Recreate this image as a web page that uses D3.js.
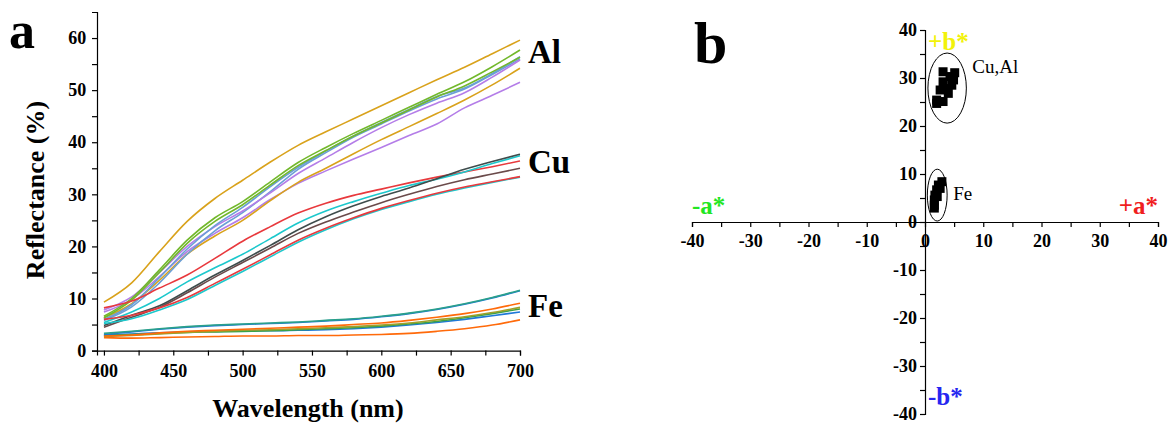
<!DOCTYPE html>
<html>
<head>
<meta charset="utf-8">
<script src="https://cdn.jsdelivr.net/npm/d3@7"></script>
<style>
  body { margin: 0; background: #fff; }
  svg text { font-family: "Liberation Serif", "Times New Roman", serif; }
  .tick text { font-weight: bold; font-size: 18px; }
  .domain, .tick line { stroke: #000; stroke-width: 1.2; }
</style>
</head>
<body>
<div id="chart"></div>
<script>
// ---- panel a: reflectance spectra ----
const wavelengths = [400, 420, 440, 460, 480, 500, 520, 540, 560, 580, 600, 620, 640, 660, 680, 700];

const alGold1   = [9.3, 13, 19, 24.8, 29.2, 32.7, 36.2, 39.4, 42, 44.5, 47, 49.5, 52, 54.4, 57, 59.6];
const alGreen1  = [6.6, 10, 15.5, 21.2, 25.5, 28.6, 32.4, 36.1, 39, 41.7, 44.2, 46.7, 49.2, 51.6, 54.5, 57.7];
const alGreen2  = [6.3, 9.7, 15, 20.6, 24.8, 28, 31.8, 35.5, 38.4, 41.2, 43.7, 46.2, 48.7, 50.8, 53.5, 56.3];
const alBlue1   = [5.8, 8.4, 13, 18.5, 23, 26.5, 30.5, 34.8, 38, 41, 43.5, 46, 48.3, 50.2, 53, 56];
const alBlue2   = [6.0, 8.8, 14, 19.5, 24, 27.5, 31.5, 35.2, 38.3, 41.2, 43.8, 46.3, 48.8, 50.4, 53.2, 56.4];
const alPurple1 = [7.8, 10.3, 15, 20, 23.8, 26.8, 30.3, 34, 37, 40, 42.8, 45.3, 47.5, 49.5, 52.5, 55.8];
const alGold2   = [6.3, 9, 13.5, 18.5, 22, 25, 28.8, 32.3, 35, 37.8, 40.5, 43, 45.5, 48.1, 51, 54.2];
const alPurple2 = [7.4, 9.8, 14.2, 19, 22.5, 25.5, 29, 32.1, 34.5, 36.8, 39, 41.3, 43.5, 46.6, 49, 51.5];

const cuRed1  = [8.2, 9.5, 12, 14.5, 17.7, 21, 23.8, 26.4, 28.3, 29.8, 31, 32.2, 33.3, 34.3, 35.3, 36.4];
const cuCyan1 = [5.4, 7.4, 10, 13.2, 15.9, 18.5, 21.5, 24.5, 26.8, 28.6, 30.2, 31.7, 32.9, 34.3, 35.9, 37.4];
const cuDark  = [4.8, 6.8, 8.6, 11.5, 14.5, 17.3, 20.2, 23.2, 25.7, 27.8, 29.6, 31.2, 33, 34.8, 36.3, 37.7];
const cuBrown = [4.5, 6.4, 8.3, 11.1, 14.1, 16.9, 19.7, 22.5, 24.7, 26.6, 28.4, 30, 31.5, 32.8, 33.9, 35];
const cuRed2  = [6.0, 6.8, 8.2, 10.2, 12.9, 15.6, 18.4, 21.2, 23.5, 25.5, 27.3, 28.8, 30.2, 31.4, 32.4, 33.4];
const cuCyan2 = [5.2, 6.1, 7.8, 9.8, 12.5, 15.2, 18, 20.8, 23.2, 25.3, 27.1, 28.6, 30, 31.2, 32.3, 33.3];

const feTeal    = [3.3, 3.7, 4.2, 4.6, 4.9, 5.1, 5.3, 5.5, 5.8, 6.1, 6.6, 7.2, 8.0, 9.0, 10.2, 11.6];
const feBlue1   = [3.1, 3.6, 4.1, 4.5, 4.8, 5.0, 5.2, 5.4, 5.7, 6.0, 6.5, 7.1, 7.9, 8.9, 10.1, 11.5];
const feOrange1 = [2.8, 3.0, 3.4, 3.7, 3.9, 4.1, 4.3, 4.5, 4.7, 5.0, 5.3, 5.8, 6.4, 7.1, 8.0, 9.1];
const feOlive   = [2.7, 2.9, 3.2, 3.5, 3.7, 3.9, 4.0, 4.2, 4.4, 4.6, 4.9, 5.3, 5.9, 6.5, 7.3, 8.3];
const feGreen   = [2.9, 3.1, 3.3, 3.5, 3.6, 3.7, 3.8, 4.0, 4.2, 4.4, 4.7, 5.1, 5.6, 6.3, 7.1, 8.0];
const feBlue2   = [3.0, 3.2, 3.4, 3.6, 3.7, 3.8, 3.8, 3.9, 4.0, 4.2, 4.5, 4.9, 5.4, 6.0, 6.7, 7.4];
const feOrange2 = [2.5, 2.4, 2.5, 2.6, 2.7, 2.8, 2.8, 2.9, 2.9, 3.0, 3.1, 3.3, 3.7, 4.2, 4.9, 5.9];

const spectra = [
  { values: alGold1, color: "#d9a21b" }, { values: alPurple2, color: "#b47de8" },
  { values: alGold2, color: "#d9a21b" }, { values: alBlue1, color: "#6b9fd6" },
  { values: alPurple1, color: "#b47de8" }, { values: alBlue2, color: "#6b9fd6" },
  { values: alGreen2, color: "#72b82b" }, { values: alGreen1, color: "#72b82b" },
  { values: cuRed1, color: "#e8393d" }, { values: cuCyan1, color: "#1cc8cc" },
  { values: cuBrown, color: "#6a4a4a" }, { values: cuDark, color: "#3f4c4c" },
  { values: cuCyan2, color: "#1cc8cc" }, { values: cuRed2, color: "#e8393d" },
  { values: feOrange2, color: "#ff6a0a" }, { values: feBlue2, color: "#1f78d8" },
  { values: feGreen, color: "#3aa24a" }, { values: feOlive, color: "#a0a02a" },
  { values: feOrange1, color: "#ff6a0a" }, { values: feBlue1, color: "#1f78d8" },
  { values: feTeal, color: "#2ba08a" }
];
const groupLabels = [{ text: "Al", value: 57.5 }, { text: "Cu", value: 36.3 }, { text: "Fe", value: 8.7 }];

// ---- panel b: CIELab a*-b* plane ----
const cuAlA = [3.1, 5.1, 4.3, 3.1, 4.6, 2.6, 4.0, 2.0, 3.1, 3.7, 4.9, 2.0];
const cuAlB = [31.3, 31.1, 30.3, 29.2, 28.5, 27.5, 26.8, 25.4, 25.1, 27.8, 29.6, 24.7];
const feA = [2.9, 2.3, 2.0, 1.7, 1.6, 1.6, 1.6, 2.6, 2.1];
const feB = [8.4, 7.7, 6.7, 5.6, 4.6, 3.5, 2.9, 7.0, 5.3];
const clusters = [
  { name: "Cu,Al", a: 3.8, b: 27.9, ra: 3.3, rb: 7.3 },
  { name: "Fe", a: 2.1, b: 5.6, ra: 1.7, rb: 5.4 }
];
const axisNames = [
  { text: "+b*", color: "#f2f20a" }, { text: "-b*", color: "#2626f0" },
  { text: "-a*", color: "#22e622" }, { text: "+a*", color: "#f01e1e" }
];

const width = 1169, height = 423;
const svg = d3.select("#chart").append("svg")
  .attr("width", width).attr("height", height);

// ---------- panel a ----------
const x = d3.scaleLinear().domain([395, 700]).range([97, 520]);
const y = d3.scaleLinear().domain([0, 65]).range([350.6, 12]);

const gA = svg.append("g");

gA.append("g")
  .attr("transform", `translate(0,${y(0)})`)
  .call(d3.axisBottom(x).tickValues(d3.range(400, 701, 25)).tickSize(5)
    .tickFormat(d => d % 50 === 0 ? d : ""))
  .call(g => g.selectAll(".tick text").attr("dy", "1.05em"));

gA.append("g")
  .attr("transform", `translate(${x(395)},0)`)
  .call(d3.axisLeft(y).tickValues(d3.range(0, 61, 5)).tickSize(5)
    .tickFormat(d => d % 10 === 0 ? d : ""))
  .call(g => g.selectAll(".tick text").attr("dx", "-0.15em"));

const line = d3.line()
  .x((d, i) => x(wavelengths[i]))
  .y(d => y(d))
  .curve(d3.curveMonotoneX);

gA.selectAll(".spectrum")
  .data(spectra)
  .join("path")
  .attr("class", "spectrum")
  .attr("fill", "none")
  .attr("stroke", d => d.color)
  .attr("stroke-width", 1.6)
  .attr("d", d => line(d.values));

gA.selectAll(".group-label")
  .data(groupLabels)
  .join("text")
  .attr("x", x(700) + 8)
  .attr("y", d => y(d.value))
  .attr("dy", "0.35em")
  .attr("font-size", 33)
  .attr("font-weight", "bold")
  .text(d => d.text);

gA.append("text")
  .attr("x", 308).attr("y", 417)
  .attr("text-anchor", "middle")
  .attr("font-size", 26).attr("font-weight", "bold")
  .text("Wavelength (nm)");

gA.append("text")
  .attr("transform", "translate(44,190) rotate(-90)")
  .attr("text-anchor", "middle")
  .attr("font-size", 26).attr("font-weight", "bold")
  .text("Reflectance (%)");

gA.append("text")
  .attr("x", 9).attr("y", 48)
  .attr("font-size", 52).attr("font-weight", "bold")
  .text("a");

// ---------- panel b ----------
const xb = d3.scaleLinear().domain([-40, 40]).range([692, 1158]);
const yb = d3.scaleLinear().domain([-40, 40]).range([414, 30]);

const gB = svg.append("g");

gB.append("g")
  .attr("transform", `translate(0,${yb(0)})`)
  .call(d3.axisBottom(xb).tickValues(d3.range(-40, 41, 5)).tickSize(5)
    .tickFormat(d => d % 10 === 0 ? d : ""))
  .call(g => g.selectAll(".tick text").attr("font-size", 17).attr("dy", "0.95em"));

gB.append("g")
  .attr("transform", `translate(${xb(0)},0)`)
  .call(d3.axisLeft(yb).tickValues(d3.range(-40, 41, 5)).tickSize(5)
    .tickFormat(d => d % 10 === 0 ? d : ""))
  .call(g => g.selectAll(".tick text").attr("font-size", 17).attr("dy", "0.3em"));

gB.selectAll(".cluster")
  .data(clusters)
  .join("ellipse")
  .attr("class", "cluster")
  .attr("cx", d => xb(d.a))
  .attr("cy", d => yb(d.b))
  .attr("rx", d => xb(d.ra) - xb(0))
  .attr("ry", d => yb(0) - yb(d.rb))
  .attr("fill", "none")
  .attr("stroke", "#000")
  .attr("stroke-width", 1);

const pts = cuAlA.map((a, i) => ({ a, b: cuAlB[i] }))
  .concat(feA.map((a, i) => ({ a, b: feB[i] })));
const sq = 9;
gB.selectAll(".pt")
  .data(pts)
  .join("rect")
  .attr("class", "pt")
  .attr("x", d => xb(d.a) - sq / 2)
  .attr("y", d => yb(d.b) - sq / 2)
  .attr("width", sq).attr("height", sq)
  .attr("fill", "#000");

gB.selectAll(".cluster-label")
  .data(clusters)
  .join("text")
  .attr("x", d => xb(d.a + d.ra) + 6)
  .attr("y", (d, i) => yb(d.b + d.rb * (i === 0 ? 0.62 : 0.05)))
  .attr("dy", "0.35em")
  .attr("font-size", 19)
  .text(d => d.name);

const namePos = [
  { x: xb(0) + 3, y: yb(40) + 20, anchor: "start" },
  { x: xb(0) + 3, y: yb(-40) - 9, anchor: "start" },
  { x: xb(-40), y: yb(0) - 8, anchor: "start" },
  { x: xb(40), y: yb(0) - 8, anchor: "end" }
];
gB.selectAll(".axis-name")
  .data(axisNames)
  .join("text")
  .attr("x", (d, i) => namePos[i].x)
  .attr("y", (d, i) => namePos[i].y)
  .attr("text-anchor", (d, i) => namePos[i].anchor)
  .attr("fill", d => d.color)
  .attr("font-size", 25).attr("font-weight", "bold")
  .text(d => d.text);

gB.append("text")
  .attr("x", 694).attr("y", 63)
  .attr("font-size", 60).attr("font-weight", "bold")
  .text("b");
</script>
</body>
</html>
